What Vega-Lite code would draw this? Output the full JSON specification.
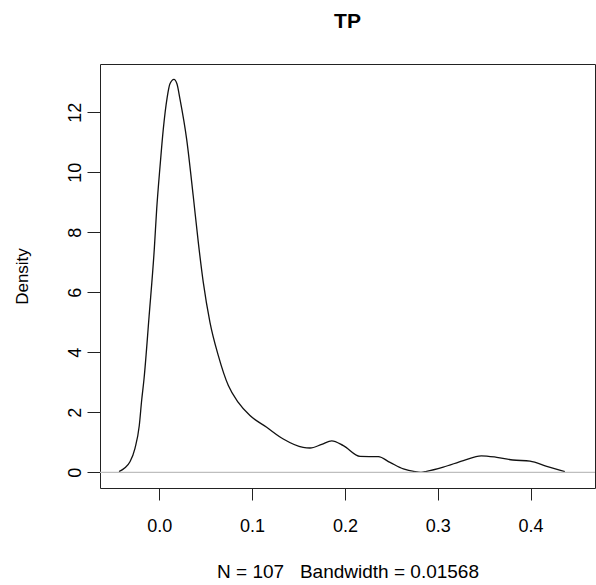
{
  "$schema": "https://vega.github.io/schema/vega-lite/v6.json",
  "width": 495,
  "height": 424,
  "autosize": {"type": "none"},
  "padding": {"left": 100, "top": 64, "right": 1, "bottom": 97},
  "background": "white",
  "config": {
    "font": "Liberation Sans",
    "view": {"stroke": "#222", "strokeWidth": 1},
    "axis": {"grid": false, "domain": false, "tickColor": "#222", "labelColor": "black", "titleColor": "black", "labelFont": "Liberation Sans", "titleFont": "Liberation Sans", "titleFontWeight": "normal"}
  },
  "title": {"text": "TP", "fontSize": 21, "fontWeight": "bold", "anchor": "middle", "frame": "group", "baseline": "alphabetic", "offset": 15, "color": "black", "font": "Liberation Sans"},
  "datasets": {
    "dens": [
      {"x": -0.0434, "density": 0.02},
      {"x": -0.037, "density": 0.15},
      {"x": -0.0316, "density": 0.35},
      {"x": -0.0262, "density": 0.8},
      {"x": -0.0216, "density": 1.55},
      {"x": -0.019, "density": 2.4},
      {"x": -0.0165, "density": 3.1},
      {"x": -0.011, "density": 5.2},
      {"x": -0.0054, "density": 7.44},
      {"x": -0.0028, "density": 8.78},
      {"x": 0.0008, "density": 10.2},
      {"x": 0.0043, "density": 11.44},
      {"x": 0.0085, "density": 12.5},
      {"x": 0.0115, "density": 12.95},
      {"x": 0.0158, "density": 13.1},
      {"x": 0.019, "density": 12.95},
      {"x": 0.0223, "density": 12.44},
      {"x": 0.0295, "density": 11.1},
      {"x": 0.0366, "density": 9.2},
      {"x": 0.042, "density": 7.67},
      {"x": 0.0474, "density": 6.33},
      {"x": 0.0546, "density": 5.0},
      {"x": 0.0636, "density": 3.89},
      {"x": 0.0744, "density": 2.89},
      {"x": 0.0851, "density": 2.33},
      {"x": 0.0977, "density": 1.89},
      {"x": 0.1157, "density": 1.5},
      {"x": 0.1336, "density": 1.11},
      {"x": 0.155, "density": 0.83},
      {"x": 0.1624, "density": 0.81},
      {"x": 0.175, "density": 0.93},
      {"x": 0.1858, "density": 1.05},
      {"x": 0.1983, "density": 0.89},
      {"x": 0.2163, "density": 0.53},
      {"x": 0.236, "density": 0.52},
      {"x": 0.2486, "density": 0.33},
      {"x": 0.263, "density": 0.11},
      {"x": 0.2755, "density": 0.02},
      {"x": 0.282, "density": 0.0},
      {"x": 0.288, "density": 0.03},
      {"x": 0.306, "density": 0.17},
      {"x": 0.3276, "density": 0.39},
      {"x": 0.347, "density": 0.55},
      {"x": 0.3636, "density": 0.5},
      {"x": 0.381, "density": 0.41},
      {"x": 0.3995, "density": 0.37},
      {"x": 0.4175, "density": 0.2},
      {"x": 0.437, "density": 0.02}
    ],
    "zero": [{"y": 0}]
  },
  "layer": [
    {
      "data": {"name": "dens"},
      "mark": {"type": "line", "color": "#111", "strokeWidth": 1.3, "interpolate": "monotone"},
      "encoding": {
        "x": {
          "field": "x", "type": "quantitative",
          "scale": {"domain": [-0.0639, 0.4695], "nice": false, "zero": false},
          "axis": {"values": [0, 0.1, 0.2, 0.3, 0.4], "format": ".1f", "tickSize": 12, "labelFontSize": 18, "labelPadding": 17, "title": "N = 107\u00a0\u00a0\u00a0Bandwidth = 0.01568", "titleFontSize": 19, "titlePadding": 27}
        },
        "y": {
          "field": "density", "type": "quantitative",
          "scale": {"domain": [-0.524, 13.61], "nice": false, "zero": false},
          "axis": {"values": [0, 2, 4, 6, 8, 10, 12], "tickSize": 13, "labelAngle": -90, "labelFontSize": 18, "labelPadding": 3, "title": "Density", "titleFontSize": 17, "titlePadding": 35}
        }
      }
    },
    {
      "data": {"name": "zero"},
      "mark": {"type": "rule", "color": "#bebebe", "strokeWidth": 1.2},
      "encoding": {
        "y": {"field": "y", "type": "quantitative", "scale": {"domain": [-0.524, 13.61], "nice": false, "zero": false}}
      }
    }
  ]
}
